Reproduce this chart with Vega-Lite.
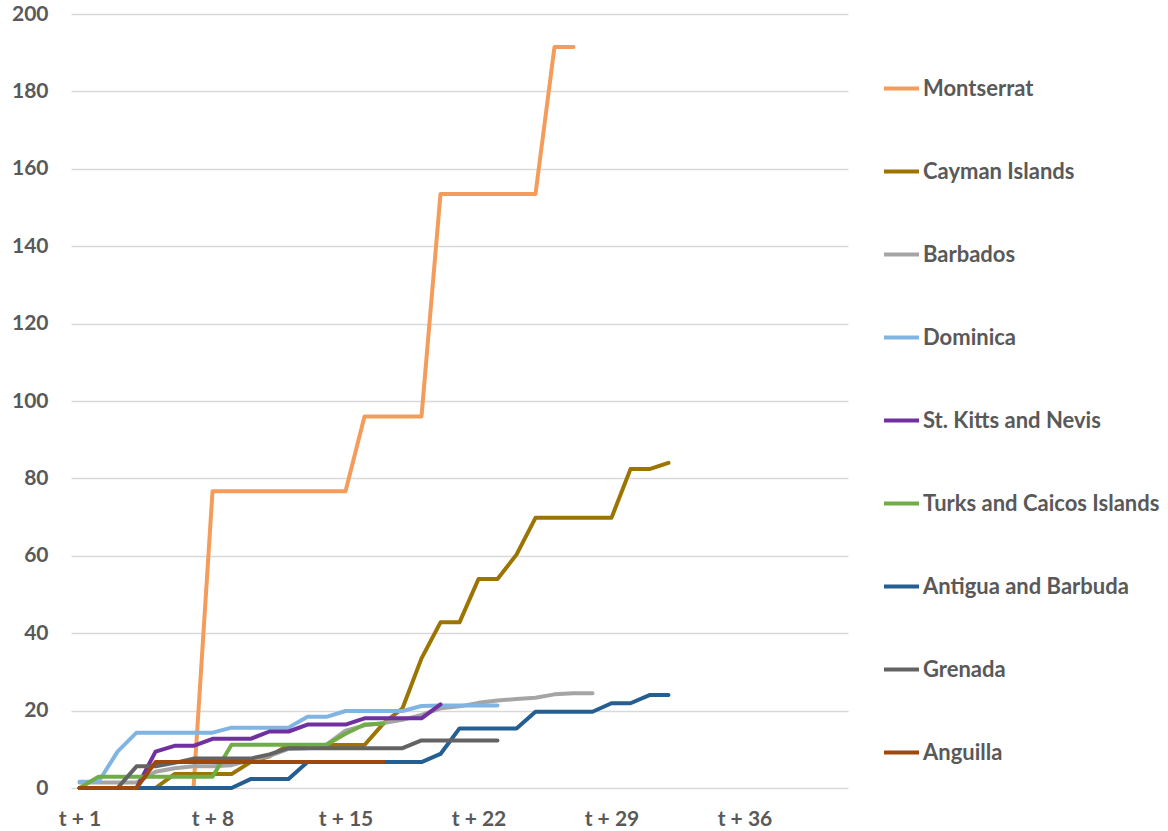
{
  "$schema": "https://vega.github.io/schema/vega-lite/v6.json",
  "autosize": {"type": "none"},
  "padding": {"left": 71, "top": 14, "right": 320, "bottom": 43},
  "width": 777,
  "height": 774,
  "background": "white",
  "config": {
    "view": {"stroke": null},
    "font": "Lato"
  },
  "data": {
    "values": [
      {"c": "Montserrat", "t": [1,2,3,4,5,6,7,8,9,10,11,12,13,14,15,16,17,18,19,20,21,22,23,24,25,26,27], "v": [0,0,0,0,0,0,0,76.7,76.7,76.7,76.7,76.7,76.7,76.7,76.7,96,96,96,96,153.5,153.5,153.5,153.5,153.5,153.5,191.5,191.5]},
      {"c": "Cayman Islands", "t": [1,2,3,4,5,6,7,8,9,10,11,12,13,14,15,16,17,18,19,20,21,22,23,24,25,26,27,28,29,30,31,32], "v": [0,0,0,0,0,3.6,3.6,3.6,3.6,6.7,8.2,11.1,11.1,11.1,11.1,11.1,16.7,20.6,33.5,42.8,42.8,54,54,60.3,69.8,69.8,69.8,69.8,69.8,82.4,82.4,84]},
      {"c": "Barbados", "t": [1,2,3,4,5,6,7,8,9,10,11,12,13,14,15,16,17,18,19,20,21,22,23,24,25,26,27,28], "v": [1.4,1.4,1.4,1.4,4.2,5.1,5.6,5.6,5.9,7.2,8.3,10.1,10.3,11.2,14.8,16.2,16.8,17.6,18.9,20.6,21.1,22,22.6,23,23.3,24.2,24.5,24.5]},
      {"c": "Dominica", "t": [1,2,3,4,5,6,7,8,9,10,11,12,13,14,15,16,17,18,19,20,21,22,23], "v": [1.6,1.6,9.4,14.3,14.3,14.3,14.3,14.3,15.6,15.6,15.6,15.6,18.4,18.4,19.9,19.9,19.9,19.9,21.2,21.3,21.3,21.3,21.3]},
      {"c": "St. Kitts and Nevis", "t": [1,2,3,4,5,6,7,8,9,10,11,12,13,14,15,16,17,18,19,20], "v": [0,0,0,0,9.4,10.9,10.9,12.7,12.7,12.7,14.6,14.6,16.4,16.4,16.4,18,18,18,18,21.6]},
      {"c": "Turks and Caicos Islands", "t": [1,2,3,4,5,6,7,8,9,10,11,12,13,14,15,16,17], "v": [0,2.9,2.9,2.9,2.9,2.9,2.9,2.9,11.2,11.2,11.2,11.2,11.2,11.2,14,16.4,16.6]},
      {"c": "Antigua and Barbuda", "t": [1,2,3,4,5,6,7,8,9,10,11,12,13,14,15,16,17,18,19,20,21,22,23,24,25,26,27,28,29,30,31,32], "v": [0,0,0,0,0,0,0,0,0,2.3,2.3,2.3,6.7,6.7,6.7,6.7,6.7,6.7,6.7,8.8,15.4,15.4,15.4,15.4,19.7,19.7,19.7,19.7,21.9,21.9,24,24]},
      {"c": "Grenada", "t": [1,2,3,4,5,6,7,8,9,10,11,12,13,14,15,16,17,18,19,20,21,22,23], "v": [0,0,0,5.6,5.6,6.5,7.6,7.6,7.6,7.6,8.7,10.3,10.3,10.3,10.3,10.3,10.3,10.3,12.3,12.3,12.3,12.3,12.3]},
      {"c": "Anguilla", "t": [1,2,3,4,5,6,7,8,9,10,11,12,13,14,15,16,17], "v": [0,0,0,0,6.7,6.7,6.7,6.7,6.7,6.7,6.7,6.7,6.7,6.7,6.7,6.7,6.7]}
    ]
  },
  "transform": [{"flatten": ["t", "v"]}],
  "mark": {"type": "line", "strokeWidth": 4, "strokeJoin": "round", "strokeCap": "round"},
  "encoding": {
    "x": {
      "field": "t",
      "type": "quantitative",
      "scale": {"domain": [0.55, 41.45], "nice": false, "zero": false},
      "axis": {
        "title": null,
        "values": [1, 8, 15, 22, 29, 36],
        "labelExpr": "'t + ' + datum.value",
        "grid": false,
        "domain": false,
        "ticks": false,
        "labelFont": "Lato",
        "labelFontWeight": "bold",
        "labelFontSize": 21,
        "labelColor": "#595959",
        "labelPadding": 20,
        "labelFlush": false
      }
    },
    "y": {
      "field": "v",
      "type": "quantitative",
      "scale": {"domain": [0, 200], "nice": false},
      "axis": {
        "title": null,
        "values": [0, 20, 40, 60, 80, 100, 120, 140, 160, 180, 200],
        "grid": true,
        "gridColor": "#D9D9D9",
        "gridWidth": 1.5,
        "domain": false,
        "ticks": false,
        "labelFont": "Lato",
        "labelFontWeight": "bold",
        "labelFontSize": 21,
        "labelColor": "#595959",
        "labelPadding": 23
      }
    },
    "color": {
      "field": "c",
      "type": "nominal",
      "sort": null,
      "scale": {
        "domain": ["Montserrat", "Cayman Islands", "Barbados", "Dominica", "St. Kitts and Nevis", "Turks and Caicos Islands", "Antigua and Barbuda", "Grenada", "Anguilla"],
        "range": ["#F39C5B", "#9C7500", "#A5A5A5", "#80B4E2", "#7030A0", "#70AD47", "#255E91", "#636363", "#9E480E"]
      },
      "legend": {
        "title": null,
        "orient": "none",
        "legendX": 811,
        "legendY": 55,
        "symbolType": "stroke",
        "symbolSize": 1225,
        "symbolStrokeWidth": 4,
        "labelFont": "Lato",
        "labelFontWeight": "bold",
        "labelFontSize": 22,
        "labelColor": "#595959",
        "labelOffset": 2,
        "rowPadding": 52,
        "padding": 0,
        "labelLimit": 300
      }
    }
  }
}
